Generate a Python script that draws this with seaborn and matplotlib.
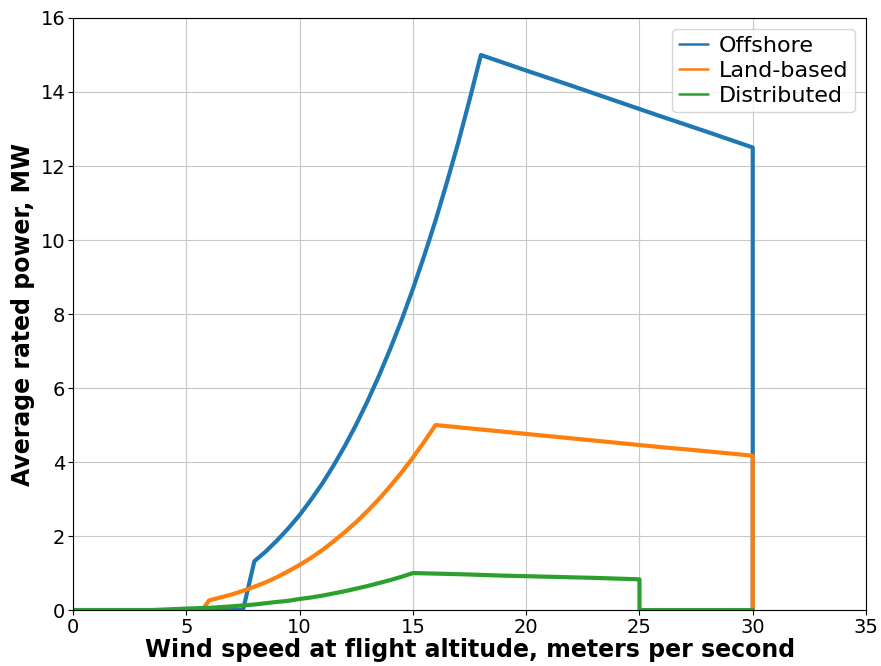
import pandas as pd
import matplotlib.pyplot as plt
import seaborn as sns

# Wind speed (m/s) and average rated power (MW)
offshore_x = [0, 7.5, 8, 8.5, 9, 9.5, 10, 10.5, 11, 11.5, 12, 12.5, 13, 13.5, 14, 14.5,
              15, 15.5, 16, 16.5, 17, 17.5, 18, 20, 22, 24, 26, 28, 30, 30]
offshore_y = [0, 0, 1.32, 1.58, 1.88, 2.21, 2.57, 2.98, 3.42, 3.91, 4.44, 5.02, 5.65,
              6.33, 7.06, 7.84, 8.68, 9.58, 10.53, 11.56, 12.63, 13.79, 15.0,
              14.58, 14.17, 13.75, 13.33, 12.92, 12.5, 0]

land_x = [0, 5.7, 6, 6.5, 7, 7.5, 8, 8.5, 9, 9.5, 10, 10.5, 11, 11.5, 12, 12.5, 13,
          13.5, 14, 14.5, 15, 15.5, 16, 18, 20, 22, 24, 26, 28, 30, 30]
land_y = [0, 0, 0.26, 0.34, 0.42, 0.52, 0.63, 0.75, 0.89, 1.05, 1.22, 1.41, 1.62, 1.86,
          2.11, 2.38, 2.68, 3.0, 3.35, 3.72, 4.12, 4.55, 5.0,
          4.88, 4.76, 4.64, 4.52, 4.40, 4.29, 4.17, 0]

dist_x = [0, 3.5, 5, 6, 7, 8, 9, 9.5, 10, 10.5, 11, 11.5, 12, 12.5, 13, 13.5, 14, 14.5,
          15, 17, 19, 21, 23, 25, 25, 30]
dist_y = [0, 0, 0.04, 0.06, 0.10, 0.15, 0.22, 0.25, 0.30, 0.34, 0.39, 0.45, 0.51, 0.58,
          0.65, 0.73, 0.81, 0.90, 1.0, 0.97, 0.93, 0.90, 0.87, 0.83, 0, 0]

rows = []
for name, xs, ys in [('Offshore', offshore_x, offshore_y),
                     ('Land-based', land_x, land_y),
                     ('Distributed', dist_x, dist_y)]:
    for x, y in zip(xs, ys):
        rows.append({'speed': x, 'power': y, 'type': name})
df = pd.DataFrame(rows)

sns.set_style("ticks", {"axes.grid": True, "grid.color": "#c8c8c8",
                        "text.color": "black", "axes.labelcolor": "black",
                        "xtick.color": "black", "ytick.color": "black"})
plt.rcParams['font.family'] = ['DejaVu Sans']

fig, ax = plt.subplots(figsize=(8.81, 6.66), dpi=100)
sns.lineplot(data=df, x='speed', y='power', hue='type', sort=False, estimator=None,
             units='type', palette=['#1f77b4', '#ff7f0e', '#2ca02c'],
             linewidth=3, ax=ax)

ax.set_xlim(0, 35)
ax.set_ylim(0, 16)
ax.set_xticks(range(0, 36, 5))
ax.set_yticks(range(0, 17, 2))
ax.tick_params(labelsize=14, pad=2)
ax.set_xlabel('Wind speed at flight altitude, meters per second', fontsize=17,
              fontweight='bold', labelpad=1)
ax.set_ylabel('Average rated power, MW', fontsize=17, fontweight='bold')
for s in ax.spines.values():
    s.set_color('black')

leg = ax.legend(loc='upper right', fontsize=16, title=None, handlelength=1.3,
                borderpad=0.3, labelspacing=0.22, handletextpad=0.5)
for line in leg.get_lines():
    line.set_linewidth(1.8)

plt.subplots_adjust(left=0.083, right=0.983, top=0.973, bottom=0.084)
plt.savefig('out.png')
